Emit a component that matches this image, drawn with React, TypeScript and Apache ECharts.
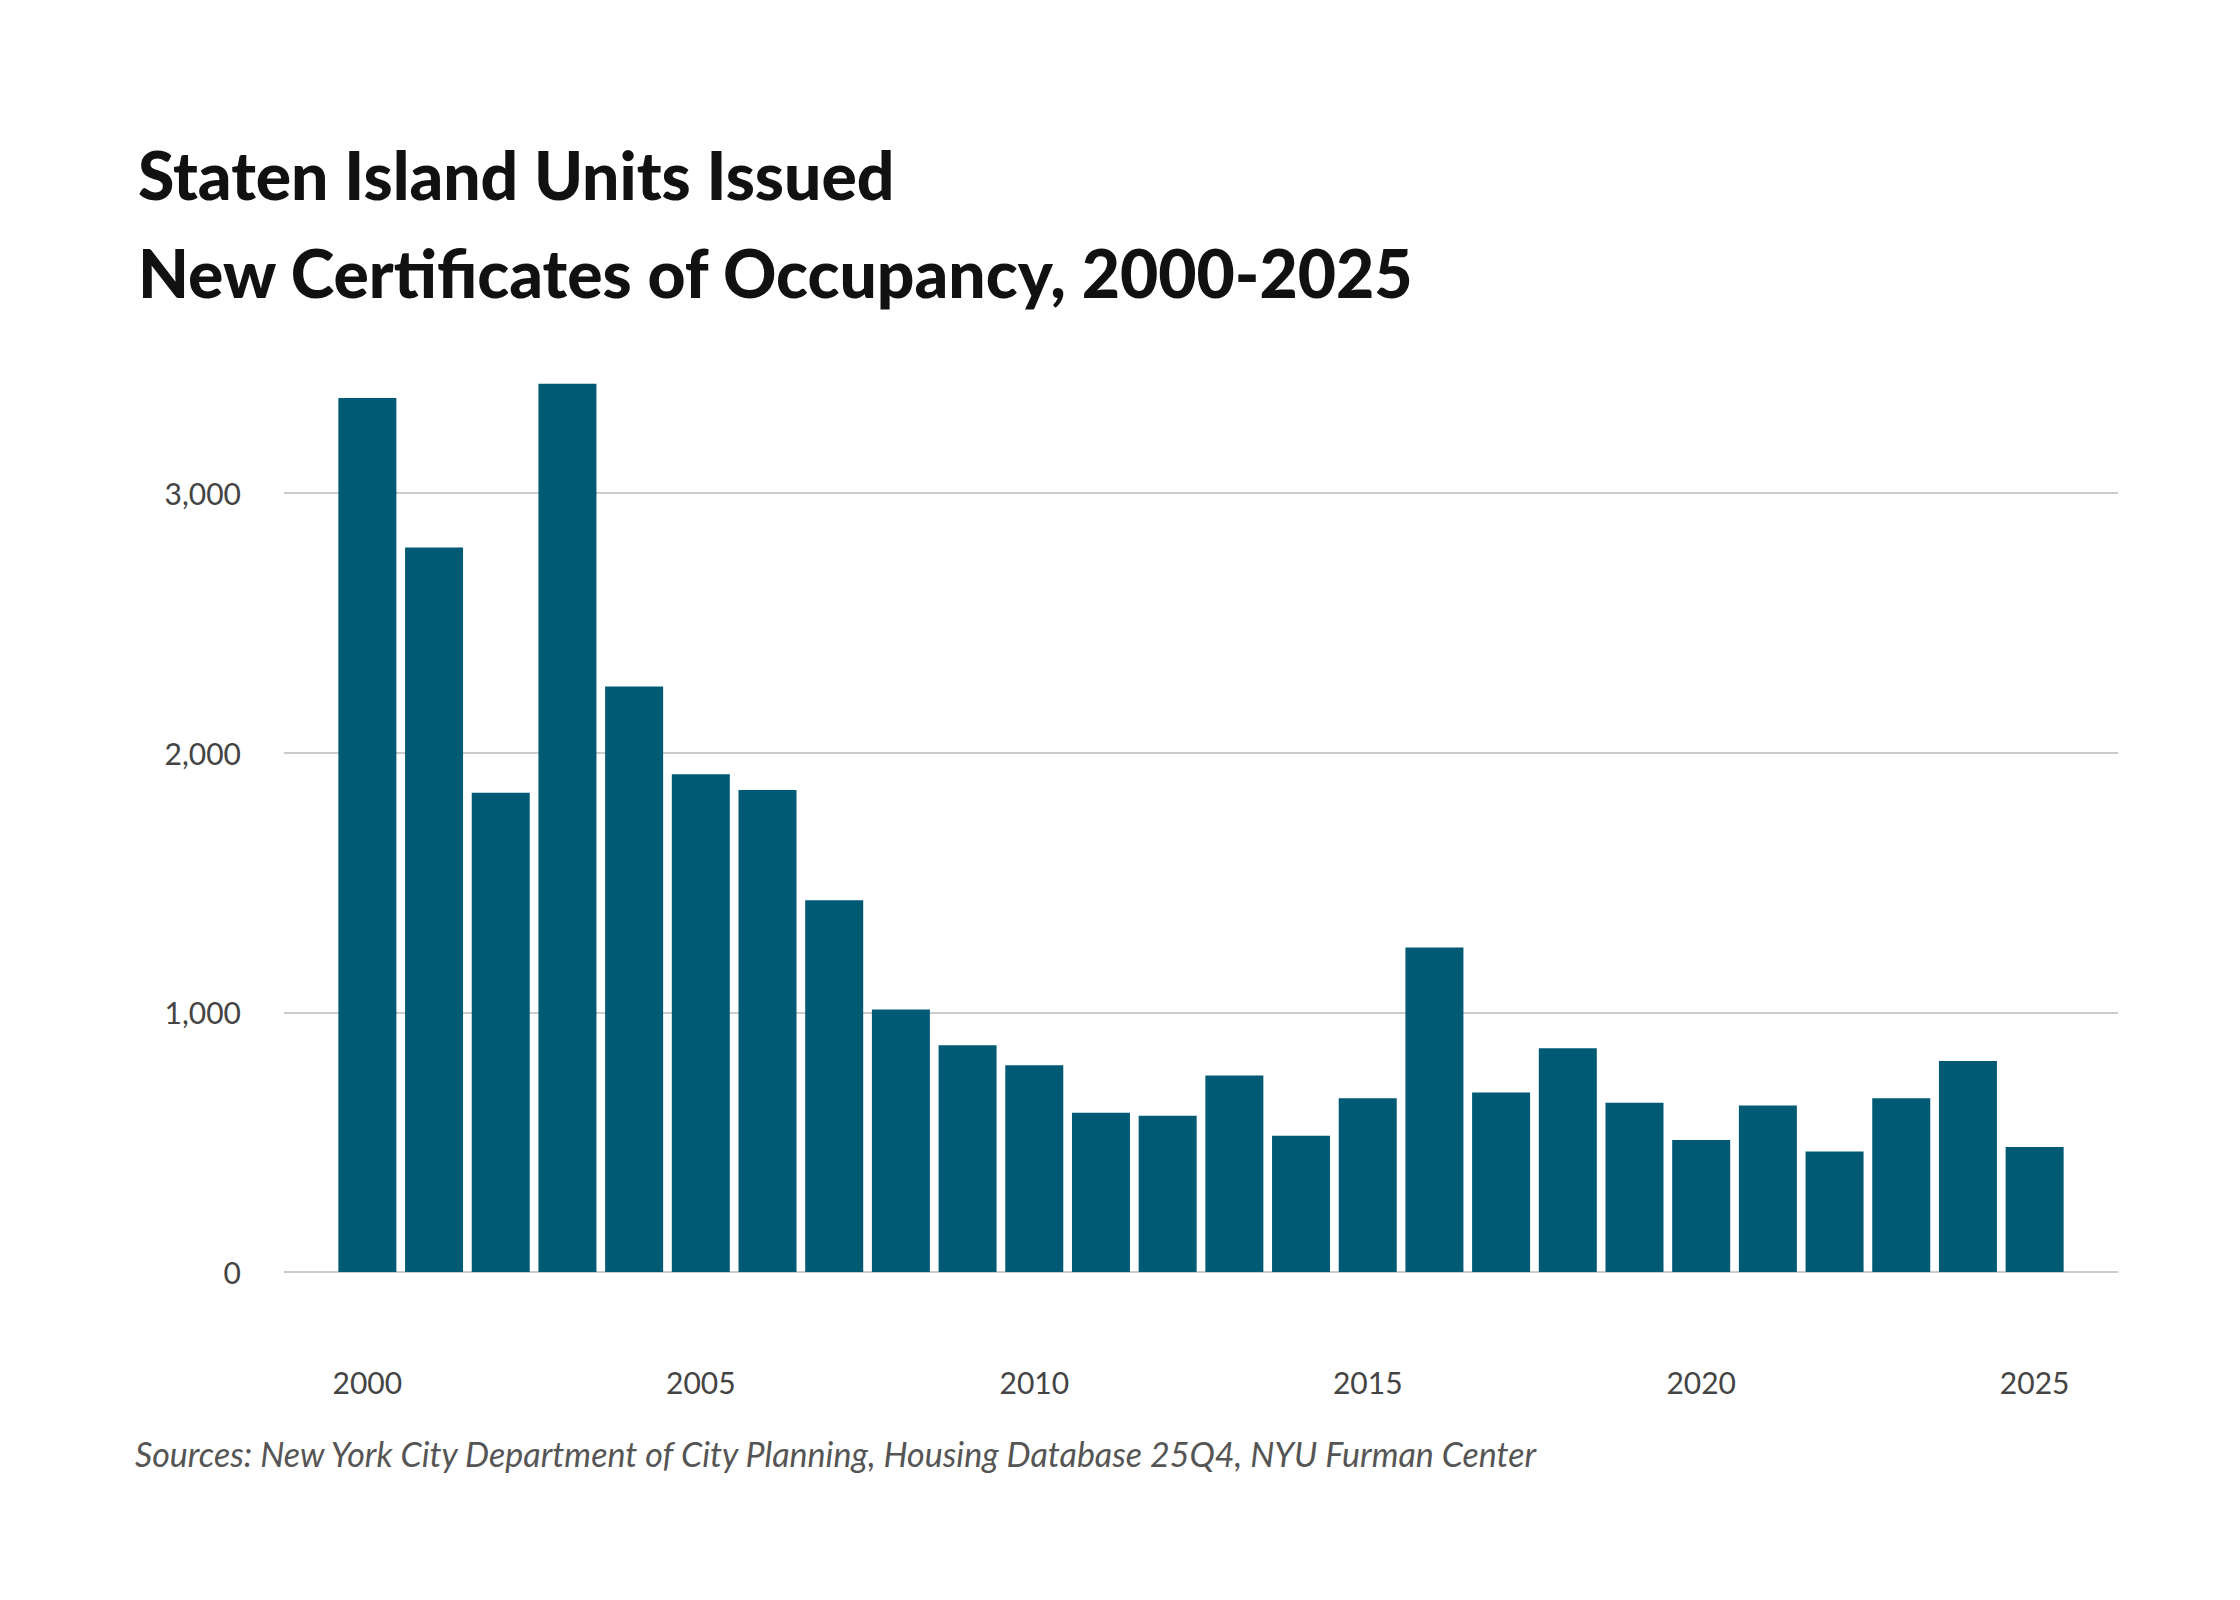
import { useEffect, useRef } from "react";
import * as echarts from "echarts";

const years = [
  2000, 2001, 2002, 2003, 2004, 2005, 2006, 2007, 2008, 2009, 2010, 2011, 2012,
  2013, 2014, 2015, 2016, 2017, 2018, 2019, 2020, 2021, 2022, 2023, 2024, 2025,
];
const units = [
  3365, 2790, 1845, 3420, 2254, 1917, 1856, 1431, 1011, 873, 796, 613, 602,
  757, 525, 669, 1249, 691, 862, 652, 508, 641, 464, 669, 812, 481,
];
const yearLabels = [2000, 2005, 2010, 2015, 2020, 2025];
const unitTicks = [0, 1000, 2000, 3000];

export default function App() {
  const ref = useRef<HTMLDivElement>(null);

  useEffect(() => {
    if (!ref.current) return;
    document.body.style.margin = "0";
    const chart = echarts.init(ref.current, undefined, { renderer: "svg" });

    chart.setOption({
      animation: false,
      backgroundColor: "#ffffff",
      textStyle: { fontFamily: "Lato" },
      title: {
        text: "Staten Island Units Issued\nNew Certificates of Occupancy, 2000-2025",
        left: 133,
        top: 120,
        textStyle: {
          fontFamily: "Lato",
          fontWeight: 900,
          fontSize: 66,
          lineHeight: 98,
          color: "#111111",
        },
      },
      graphic: [
        {
          type: "text",
          left: 135,
          top: 1436,
          style: {
            text: "Sources: New York City Department of City Planning, Housing Database 25Q4, NYU Furman Center",
            font: "italic 34px Lato",
            fill: "#555555",
          },
        },
      ],
      grid: { left: 284, right: 122, top: 363, bottom: 328 },
      xAxis: {
        type: "value",
        min: 1998.75,
        max: 2026.25,
        axisLine: { show: false },
        axisTick: { show: false },
        splitLine: { show: false },
        axisLabel: {
          customValues: yearLabels,
          formatter: (v: number) => String(v),
          margin: 95,
          fontSize: 30,
          color: "#444444",
        },
      },
      yAxis: {
        type: "value",
        min: 0,
        max: 3500,
        axisLine: { show: false },
        axisTick: { show: false },
        splitLine: { show: false },
        axisLabel: {
          customValues: unitTicks,
          formatter: (v: number) => v.toLocaleString("en-US"),
          margin: 43,
          fontSize: 30,
          color: "#444444",
        },
      },
      series: [
        {
          type: "bar",
          barWidth: 58,
          itemStyle: { color: "#005a74" },
          data: years.map((y, i) => [y, units[i]]),
          markLine: {
            silent: true,
            symbol: "none",
            label: { show: false },
            lineStyle: { color: "#cccccc", type: "solid", width: 2 },
            data: unitTicks.map((v) => ({ yAxis: v })),
            z: 0,
          },
          z: 2,
        },
      ],
    });

    return () => chart.dispose();
  }, []);

  return <div ref={ref} style={{ width: 2240, height: 1600 }} />;
}
